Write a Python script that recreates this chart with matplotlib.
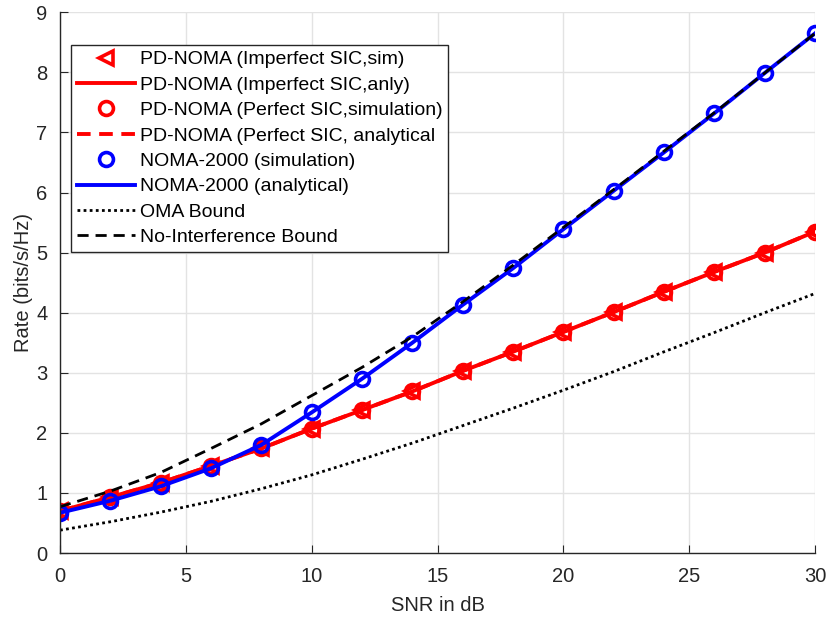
import matplotlib
matplotlib.use("Agg")
import matplotlib.pyplot as plt
import numpy as np

plt.rcParams['font.family'] = ['Liberation Sans', 'DejaVu Sans']

snr = [0, 2, 4, 6, 8, 10, 12, 14, 16, 18, 20, 22, 24, 26, 28, 30]
pd_imperfect = [0.70, 0.93, 1.17, 1.45, 1.74, 2.07, 2.38, 2.69, 3.03, 3.35, 3.68, 4.01, 4.35, 4.68, 5.00, 5.35]
pd_perfect = [0.70, 0.93, 1.17, 1.45, 1.74, 2.07, 2.38, 2.69, 3.03, 3.35, 3.68, 4.01, 4.35, 4.68, 5.00, 5.35]
noma2000 = [0.67, 0.87, 1.11, 1.41, 1.80, 2.34, 2.90, 3.50, 4.13, 4.74, 5.39, 6.03, 6.67, 7.32, 7.99, 8.65]
oma_bound = [0.38, 0.52, 0.68, 0.86, 1.07, 1.30, 1.56, 1.83, 2.12, 2.41, 2.71, 3.02, 3.35, 3.67, 4.00, 4.32]
no_interf = [0.77, 1.03, 1.34, 1.74, 2.15, 2.62, 3.09, 3.60, 4.18, 4.79, 5.42, 6.05, 6.69, 7.33, 7.99, 8.65]

xticks = [0, 5, 10, 15, 20, 25, 30]
yticks = [0, 1, 2, 3, 4, 5, 6, 7, 8, 9]

fig = plt.figure(figsize=(8.3, 6.19), dpi=100)
ax = fig.add_axes([0.0723, 0.1066, 0.9097, 0.8735])

lw = 2.8
ms = 10
mew = 2.6
ax.plot(snr, pd_imperfect, linestyle='none', marker='<', color='red', markersize=ms,
        markeredgewidth=mew, markerfacecolor='none', label='PD-NOMA (Imperfect SIC,sim)')
ax.plot(snr, pd_imperfect, '-', color='red', linewidth=lw, label='PD-NOMA (Imperfect SIC,anly)')
ax.plot(snr, pd_perfect, linestyle='none', marker='o', color='red', markersize=ms,
        markeredgewidth=mew, markerfacecolor='none', label='PD-NOMA (Perfect SIC,simulation)')
ax.plot(snr, pd_perfect, color='red', linewidth=lw, linestyle=(0, (3.5, 2.2)),
        label='PD-NOMA (Perfect SIC, analytical')
ax.plot(snr, noma2000, linestyle='none', marker='o', color='blue', markersize=ms,
        markeredgewidth=mew, markerfacecolor='none', label='NOMA-2000 (simulation)')
ax.plot(snr, noma2000, '-', color='blue', linewidth=lw, label='NOMA-2000 (analytical)')
ax.plot(snr, oma_bound, linestyle=(0, (1, 1.2)), color='black', linewidth=2.0, label='OMA Bound')
ax.plot(snr, no_interf, linestyle=(0, (4, 2.5)), color='black', linewidth=2.0,
        label='No-Interference Bound')

ax.set_xlim(0, 30)
ax.set_ylim(0, 9)
ax.set_xticks(xticks)
ax.set_yticks(yticks)
ax.grid(True, color='#e3e3e3', linewidth=1.0)
ax.set_axisbelow(True)
for s in ['top', 'right']:
    ax.spines[s].set_visible(False)
for s in ['left', 'bottom']:
    ax.spines[s].set_color('#262626')
    ax.spines[s].set_linewidth(1.0)
ax.tick_params(direction='in', length=6, colors='#262626', labelsize=14.5)
ax.tick_params(axis='x', pad=10)
ax.tick_params(axis='y', pad=9)
ax.set_xlabel('SNR in dB', fontsize=14.5, color='#262626', labelpad=7)
ax.set_ylabel('Rate (bits/s/Hz)', fontsize=14.5, color='#262626', labelpad=2)

leg = ax.legend(loc='upper left', bbox_to_anchor=(0.0145, 0.9395), fontsize=14,
                handlelength=3.0, handletextpad=0.25, borderpad=0.3, labelspacing=0.4,
                fancybox=False, framealpha=1, edgecolor='#262626', borderaxespad=0)
leg.get_frame().set_linewidth(1.0)

fig.savefig('out.png', dpi=100)
